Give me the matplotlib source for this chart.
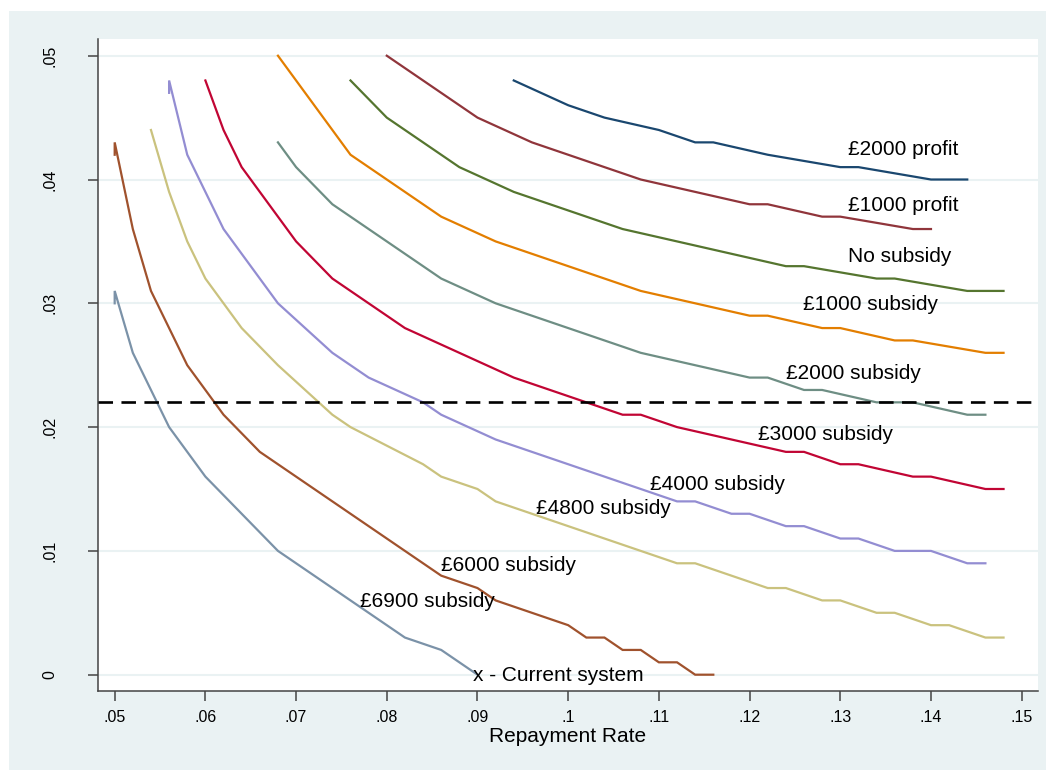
import matplotlib
matplotlib.use("Agg")
import matplotlib.pyplot as plt
from matplotlib.patches import Rectangle

plt.rcParams['font.family'] = ['Liberation Sans', 'DejaVu Sans']

# ---------------- data ----------------
series_names = ["£2000 profit", "£1000 profit", "No subsidy", "£1000 subsidy",
                "£2000 subsidy", "£3000 subsidy", "£4000 subsidy", "£4800 subsidy",
                "£6000 subsidy", "£6900 subsidy"]

x_p2000 = [0.094, 0.100, 0.104, 0.110, 0.114, 0.116, 0.122, 0.130, 0.132, 0.140, 0.144]
y_p2000 = [0.048, 0.046, 0.045, 0.044, 0.043, 0.043, 0.042, 0.041, 0.041, 0.040, 0.040]

x_p1000 = [0.080, 0.090, 0.096, 0.108, 0.120, 0.122, 0.128, 0.130, 0.138, 0.140]
y_p1000 = [0.050, 0.045, 0.043, 0.040, 0.038, 0.038, 0.037, 0.037, 0.036, 0.036]

x_none = [0.076, 0.080, 0.088, 0.094, 0.106, 0.124, 0.126, 0.134, 0.136, 0.144, 0.148]
y_none = [0.048, 0.045, 0.041, 0.039, 0.036, 0.033, 0.033, 0.032, 0.032, 0.031, 0.031]

x_s1000 = [0.068, 0.076, 0.086, 0.092, 0.108, 0.120, 0.122, 0.128, 0.130, 0.136, 0.138, 0.146, 0.148]
y_s1000 = [0.050, 0.042, 0.037, 0.035, 0.031, 0.029, 0.029, 0.028, 0.028, 0.027, 0.027, 0.026, 0.026]

x_s2000 = [0.068, 0.070, 0.074, 0.086, 0.092, 0.108, 0.120, 0.122, 0.126, 0.128, 0.134, 0.138, 0.144, 0.146]
y_s2000 = [0.043, 0.041, 0.038, 0.032, 0.030, 0.026, 0.024, 0.024, 0.023, 0.023, 0.022, 0.022, 0.021, 0.021]

x_s3000 = [0.060, 0.062, 0.064, 0.070, 0.074, 0.082, 0.094, 0.106, 0.108, 0.112, 0.118,
           0.124, 0.126, 0.130, 0.132, 0.138, 0.140, 0.146, 0.148]
y_s3000 = [0.048, 0.044, 0.041, 0.035, 0.032, 0.028, 0.024, 0.021, 0.021, 0.020, 0.019,
           0.018, 0.018, 0.017, 0.017, 0.016, 0.016, 0.015, 0.015]

x_s4000 = [0.056, 0.056, 0.058, 0.062, 0.068, 0.074, 0.078, 0.084, 0.086, 0.092, 0.112, 0.114,
           0.118, 0.120, 0.124, 0.126, 0.130, 0.132, 0.136, 0.140, 0.144, 0.146]
y_s4000 = [0.047, 0.048, 0.042, 0.036, 0.030, 0.026, 0.024, 0.022, 0.021, 0.019, 0.014, 0.014,
           0.013, 0.013, 0.012, 0.012, 0.011, 0.011, 0.010, 0.010, 0.009, 0.009]

x_s4800 = [0.054, 0.056, 0.058, 0.060, 0.064, 0.068, 0.074, 0.076, 0.084, 0.086, 0.090, 0.092,
           0.112, 0.114, 0.122, 0.124, 0.128, 0.130, 0.134, 0.136, 0.140, 0.142, 0.146, 0.148]
y_s4800 = [0.044, 0.039, 0.035, 0.032, 0.028, 0.025, 0.021, 0.020, 0.017, 0.016, 0.015, 0.014,
           0.009, 0.009, 0.007, 0.007, 0.006, 0.006, 0.005, 0.005, 0.004, 0.004, 0.003, 0.003]

x_s6000 = [0.050, 0.050, 0.052, 0.054, 0.058, 0.060, 0.062, 0.066, 0.086, 0.090, 0.092,
           0.100, 0.102, 0.104, 0.106, 0.108, 0.110, 0.112, 0.114, 0.116]
y_s6000 = [0.042, 0.043, 0.036, 0.031, 0.025, 0.023, 0.021, 0.018, 0.008, 0.007, 0.006,
           0.004, 0.003, 0.003, 0.002, 0.002, 0.001, 0.001, 0.000, 0.000]

x_s6900 = [0.050, 0.050, 0.052, 0.056, 0.060, 0.068, 0.082, 0.086, 0.090]
y_s6900 = [0.030, 0.031, 0.026, 0.020, 0.016, 0.010, 0.003, 0.002, 0.000]

current_rate_line = 0.022

label_x = [0.1309, 0.1309, 0.1309, 0.1259, 0.1240, 0.1209, 0.1090, 0.0965, 0.0860, 0.0770]
label_y = [0.0424, 0.0379, 0.0338, 0.0299, 0.0243, 0.0194, 0.0154, 0.0134, 0.0088, 0.0059]

current_label = "x - Current system"
current_label_xy = (0.0895, -0.0001)

x_ticks = [0.05, 0.06, 0.07, 0.08, 0.09, 0.10, 0.11, 0.12, 0.13, 0.14, 0.15]
x_tick_labels = [".05", ".06", ".07", ".08", ".09", ".1", ".11", ".12", ".13", ".14", ".15"]
y_ticks = [0.00, 0.01, 0.02, 0.03, 0.04, 0.05]
y_tick_labels = ["0", ".01", ".02", ".03", ".04", ".05"]
x_title = "Repayment Rate"

colors = ["#1a476f", "#90353b", "#55752f", "#e37e00", "#6e8e84",
          "#c10534", "#938dd2", "#cac27e", "#a0522d", "#7b92a8"]

# ---------------- figure ----------------
W, H = 1049, 772
fig = plt.figure(figsize=(W / 100, H / 100), dpi=100, facecolor="white")
bg = Rectangle((9 / W, 1 - 770 / H), (1046 - 9) / W, (770 - 11) / H,
               transform=fig.transFigure, facecolor="#eaf2f3",
               edgecolor="none", zorder=-10)
fig.add_artist(bg)

left, right, top, bottom = 98, 1038, 39, 691
ax = fig.add_axes([left / W, 1 - bottom / H, (right - left) / W, (bottom - top) / H])
ax.set_zorder(1)
ax.set_facecolor("white")

xs = [x_p2000, x_p1000, x_none, x_s1000, x_s2000, x_s3000, x_s4000, x_s4800, x_s6000, x_s6900]
ys = [y_p2000, y_p1000, y_none, y_s1000, y_s2000, y_s3000, y_s4000, y_s4800, y_s6000, y_s6900]

for xv, yv, c in zip(xs, ys, colors):
    ax.plot(xv, yv, color=c, lw=1.6, solid_joinstyle="miter", zorder=3)

ax.axhline(current_rate_line, color="black", lw=1.9, dashes=(5.5, 3.2), zorder=4)

for name, lx, ly in zip(series_names, label_x, label_y):
    ax.text(lx, ly, name, ha="left", va="center", fontsize=15, color="black", zorder=5)
ax.text(current_label_xy[0], current_label_xy[1], current_label, ha="left", va="center",
        fontsize=15, color="black", zorder=5)

ax.set_xlim(0.04816, 0.15180)
ax.set_ylim(-0.001317, 0.05135)

ax.set_xticks(x_ticks)
ax.set_xticklabels(x_tick_labels)
ax.set_yticks(y_ticks)
ax.set_yticklabels(y_tick_labels)

ax.grid(axis="y", color="#eaf2f3", lw=1.5, zorder=1)
ax.grid(axis="x", visible=False)
ax.set_axisbelow(True)

for s in ["top", "right"]:
    ax.spines[s].set_visible(False)
for s in ["left", "bottom"]:
    ax.spines[s].set_color("#444444")
    ax.spines[s].set_linewidth(1.1)

ax.tick_params(axis="both", length=7.2, width=1.1, color="#444444", labelsize=11.5,
               labelcolor="black")
ax.tick_params(axis="x", pad=6.5)
ax.tick_params(axis="y", pad=22, labelrotation=90)
for lab in ax.get_yticklabels():
    lab.set_va("center")

fig.text(568 / W, 1 - 737 / H, x_title, ha="center", va="center", fontsize=15)

fig.savefig("out.png", dpi=100, facecolor="white")
